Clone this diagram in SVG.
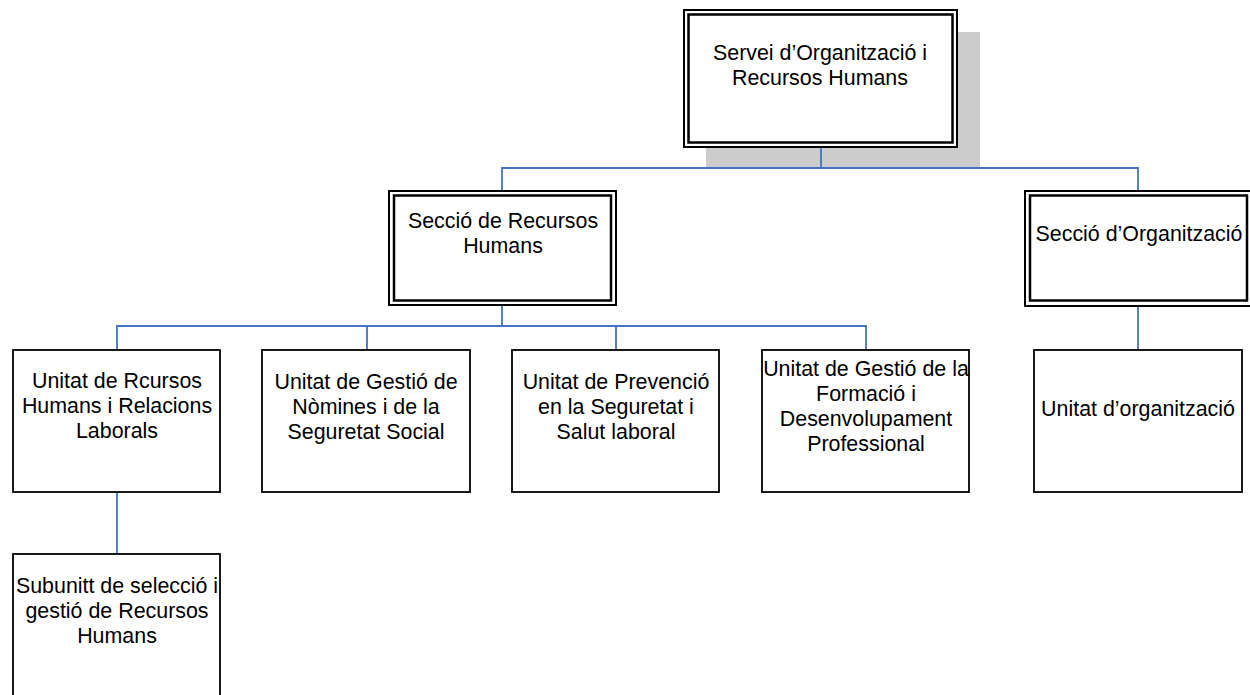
<svg xmlns="http://www.w3.org/2000/svg" width="1250" height="695" viewBox="0 0 1250 695">
<style>
.box{fill:#fff;stroke:#000;stroke-width:1.8}
.outer{fill:#fff;stroke:#000;stroke-width:2}
.inner{fill:none;stroke:#000;stroke-width:2.5}
.shadow{fill:#cccccc}
.conn{fill:none;stroke:#4472c4;stroke-width:1.8}
text{font-family:"Liberation Sans",Arial,sans-serif;font-size:21.4px;fill:#000;text-anchor:middle}
</style>
<rect width="1250" height="695" fill="#fff"/>
<rect class="shadow" x="706" y="32" width="274" height="136"/>
<g id="connectors">
<path class="conn" d="M821,147 V168 M502,191 V168 H1138 V191"/>
<path class="conn" d="M502,305 V326 M117,350 V326 H866 V350 M367,326 V350 M616,326 V350"/>
<path class="conn" d="M1138,305 V350"/>
<path class="conn" d="M117,492 V554"/>
</g>
<g id="n-servei">
<rect class="outer" x="684" y="10" width="273" height="137"/>
<rect class="inner" x="688.5" y="14.5" width="264" height="128"/>
<text x="820" y="60">Servei d’Organització i</text>
<text x="820" y="85">Recursos Humans</text>
</g>
<g id="n-seccio-rh">
<rect class="outer" x="389" y="191" width="227" height="114"/>
<rect class="inner" x="394" y="195.5" width="217" height="105"/>
<text x="503" y="228">Secció de Recursos</text>
<text x="503" y="253">Humans</text>
</g>
<g id="n-seccio-org">
<rect class="outer" x="1025" y="191" width="228" height="115"/>
<rect class="inner" x="1030" y="195.5" width="217" height="105"/>
<text x="1139" y="241">Secció d’Organització</text>
</g>
<g id="n-unitat-rh">
<rect class="box" x="13" y="350" width="207" height="142"/>
<text x="117" y="388">Unitat de Rcursos</text>
<text x="117" y="413">Humans i Relacions</text>
<text x="117" y="438">Laborals</text>
</g>
<g id="n-unitat-nomines">
<rect class="box" x="262" y="350" width="208" height="142"/>
<text x="366" y="389">Unitat de Gestió de</text>
<text x="366" y="414">Nòmines i de la</text>
<text x="366" y="439">Seguretat Social</text>
</g>
<g id="n-unitat-prevencio">
<rect class="box" x="512" y="350" width="207" height="142"/>
<text x="616" y="389">Unitat de Prevenció</text>
<text x="616" y="414">en la Seguretat i</text>
<text x="616" y="439">Salut laboral</text>
</g>
<g id="n-unitat-formacio">
<rect class="box" x="762" y="350" width="207" height="142"/>
<text x="866" y="376">Unitat de Gestió de la</text>
<text x="866" y="401">Formació i</text>
<text x="866" y="426">Desenvolupament</text>
<text x="866" y="451">Professional</text>
</g>
<g id="n-unitat-org">
<rect class="box" x="1034" y="350" width="208" height="142"/>
<text x="1138" y="416">Unitat d’organització</text>
</g>
<g id="n-subunitat">
<rect class="box" x="13" y="554" width="207" height="150"/>
<text x="117" y="593">Subunitt de selecció i</text>
<text x="117" y="618">gestió de Recursos</text>
<text x="117" y="643">Humans</text>
</g>
</svg>
